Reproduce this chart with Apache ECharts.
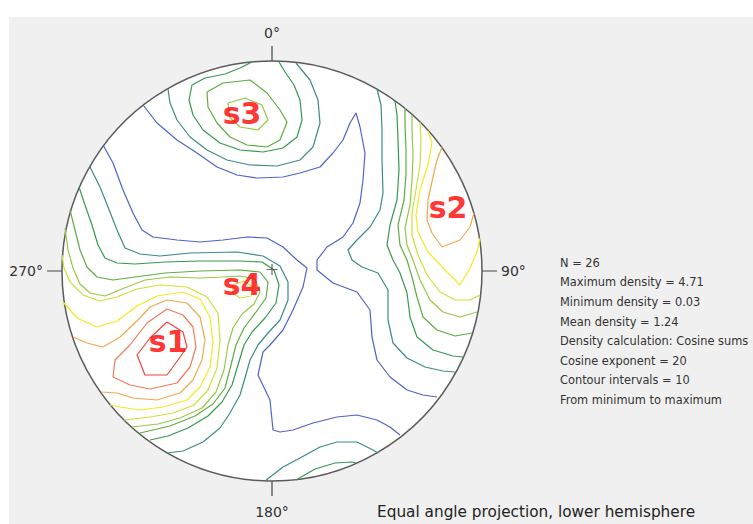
<!DOCTYPE html>
<html>
<head>
<meta charset="utf-8">
<script src="https://cdn.jsdelivr.net/npm/echarts/dist/echarts.min.js"></script>
<style>
html,body{margin:0;padding:0;background:#ffffff;}
#wrap{position:relative;width:753px;height:524px;overflow:hidden;}
#panel{position:absolute;left:9px;top:17px;right:0;bottom:0;background:#f0f0f0;}
#chart{position:absolute;left:0;top:0;width:753px;height:524px;}
</style>
</head>
<body>
<div id="wrap"><div id="panel"></div><div id="chart"></div></div>
<script>
// ---------- text content ----------
const directionLabels = ['0°', '90°', '180°', '270°'];
const statsLines = [
  'N = 26',
  'Maximum density = 4.71',
  'Minimum density = 0.03',
  'Mean density = 1.24',
  'Density calculation: Cosine sums',
  'Cosine exponent = 20',
  'Contour intervals = 10',
  'From minimum to maximum'
];
const captionText = 'Equal angle projection, lower hemisphere';

// ---------- annotations (projection units, primitive radius = 210, x east, y north) ----------
const clusterNames = ['s1', 's2', 's3', 's4'];
const clusterX = [-104, 176, -30, -30];
const clusterY = [-70, 64, 158, -13];
const centerMark = [[0, 1.5]];

// ---------- contour polylines (projection units) ----------
// level 1 (blue)
const l1_a = [[-129,166],[-115,148],[-95,131],[-75,118],[-55,104],[-35,96],[-15,93],[11,94],[28,98],[48,104],[61,118],[71,131],[78,148],[84,158],[88,144],[93,118],[91,91],[88,68],[81,48],[71,34],[55,24],[45,11],[45,1],[61,-12],[85,-21],[98,-39],[100,-66],[105,-89],[118,-106],[135,-119],[151,-124],[165,-126]];
const l1_b = [[-169,126],[-159,108],[-149,81],[-139,58],[-130,41],[-119,34],[-95,31],[-72,29],[-49,31],[-25,34],[-5,33],[11,24],[25,11],[35,3],[31,-16],[21,-39],[11,-59],[-2,-74],[-9,-81],[-14,-104],[-2,-129],[1,-159],[8,-161],[21,-159],[41,-152],[65,-146],[85,-144],[105,-149],[118,-156],[128,-164]];
// level 2 (teal)
const l2_top = [[-104,182],[-102,168],[-95,151],[-82,134],[-65,121],[-45,111],[-22,106],[5,105],[28,111],[41,124],[48,148],[46,171],[38,191],[24,208]];
const l2_right = [[105,182],[109,166],[110,141],[110,111],[111,78],[108,61],[98,44],[85,31],[76,21],[80,11],[90,4],[106,-2],[116,-19],[116,-49],[121,-72],[135,-87],[153,-96],[171,-100],[183,-101]];
const l2_left = [[-182,104],[-172,84],[-164,64],[-155,41],[-147,23],[-132,17],[-112,15],[-82,18],[-35,19],[-9,15],[8,5],[16,-11],[16,-29],[8,-49],[-4,-62],[-14,-74],[-22,-89],[-27,-107],[-32,-124],[-42,-142],[-52,-157],[-69,-171],[-89,-180],[-105,-182]];
const l2_bottom = [[-7,-210],[11,-196],[28,-187],[48,-176],[65,-171],[85,-171],[101,-179],[106,-182]];
// level 3 (dark green)
const l3_top = [[-20,209],[-32,203],[-47,197],[-67,193],[-80,186],[-83,171],[-79,156],[-69,141],[-52,128],[-32,121],[-9,119],[11,123],[25,134],[30,151],[28,171],[22,186],[13,199],[7,209]];
const l3_right = [[123,170],[125,156],[126,131],[127,101],[125,71],[118,46],[115,26],[121,11],[128,-2],[135,-22],[138,-46],[145,-66],[161,-79],[181,-85],[191,-86]];
const l3_left = [[-193,84],[-187,66],[-180,46],[-174,26],[-167,13],[-155,8],[-137,7],[-107,9],[-72,10],[-32,10],[-10,9],[2,1],[7,-14],[4,-32],[-7,-47],[-20,-61],[-28,-74],[-34,-94],[-40,-114],[-50,-131],[-64,-145],[-84,-157],[-104,-165],[-122,-169]];
const l3_bottom = [[24,-209],[43,-198],[63,-192],[80,-191],[84,-192]];
// level 4 (green)
const l4_top = [[-65,179],[-49,188],[-22,191],[-5,178],[8,161],[15,149],[8,131],[-5,124],[-25,126],[-42,134],[-55,148],[-64,164],[-65,179]];
const l4_right = [[133,163],[133,146],[134,121],[134,96],[132,71],[126,46],[128,26],[135,11],[140,-6],[145,-26],[151,-46],[165,-59],[183,-65],[200,-62]];
const l4_left = [[-202,61],[-197,41],[-192,21],[-185,4],[-175,-6],[-159,-9],[-137,-6],[-107,-2],[-72,0],[-32,1],[-12,-1],[-4,-11],[-6,-27],[-16,-41],[-28,-57],[-36,-74],[-41,-94],[-47,-117],[-59,-133],[-77,-145],[-102,-155],[-132,-162]];
// level 5 (light green)
const l5_top = [[-44,168],[-27,173],[-10,166],[-4,151],[-14,141],[-32,144],[-42,153],[-44,168]];
const l5_right = [[140,156],[140,141],[141,116],[140,91],[138,66],[133,43],[135,26],[141,11],[148,-9],[158,-29],[171,-41],[188,-46],[205,-41]];
const l5_left = [[-207,43],[-204,21],[-199,3],[-192,-13],[-182,-22],[-167,-25],[-150,-18],[-127,-9],[-102,-6],[-72,-7],[-50,-6],[-32,-5],[-17,-8],[-12,-21],[-18,-33],[-30,-43],[-39,-57],[-44,-74],[-48,-99],[-56,-121],[-70,-137],[-92,-147],[-114,-153],[-140,-156]];
// level 6 (yellow-green)
const l6_right = [[148,149],[149,131],[148,106],[144,81],[140,58],[140,36],[146,16],[155,-4],[168,-21],[183,-29],[198,-29],[208,-24]];
const l6_left = [[-210,16],[-208,3],[-202,-11],[-189,-24],[-172,-30],[-155,-26],[-135,-18],[-112,-14],[-85,-16],[-65,-26],[-54,-42],[-52,-69],[-55,-97],[-64,-119],[-78,-134],[-99,-142],[-122,-146],[-148,-149]];
const l6_s4 = [[-39,-14],[-28,-10],[-19,-16],[-21,-25],[-32,-27],[-39,-22],[-39,-14]];
// level 7 (yellow)
const l7_right = [[156,140],[160,128],[156,106],[148,81],[144,56],[146,39],[156,19],[173,1],[188,-14],[198,3],[205,19],[208,33]];
const l7_left = [[-209,-31],[-195,-47],[-175,-56],[-155,-50],[-135,-35],[-115,-25],[-89,-21],[-72,-28],[-62,-46],[-59,-72],[-62,-96],[-72,-116],[-85,-129],[-109,-136],[-132,-139],[-152,-136],[-162,-134]];
// level 8 (orange)
const l8_right = [[170,124],[165,111],[161,94],[156,71],[155,51],[160,38],[170,24],[188,31],[198,44],[202,58]];
const l8_left = [[-199,-66],[-185,-72],[-169,-76],[-152,-66],[-132,-47],[-122,-36],[-105,-29],[-85,-32],[-72,-46],[-67,-69],[-70,-89],[-79,-109],[-92,-122],[-115,-129],[-139,-127],[-155,-122],[-171,-121]];
// level 9 (orange-red)
const l9_s1 = [[-105,-38],[-89,-44],[-79,-56],[-76,-76],[-82,-96],[-95,-112],[-122,-118],[-142,-114],[-159,-106],[-157,-89],[-142,-74],[-125,-52],[-105,-38]];
// level 10 (red)
const l10_s1 = [[-105,-51],[-89,-61],[-85,-76],[-94,-89],[-105,-104],[-127,-104],[-135,-84],[-122,-67],[-105,-51]];

const contourSets = [
  [l1_a, l1_b],
  [l2_top, l2_right, l2_left, l2_bottom],
  [l3_top, l3_right, l3_left, l3_bottom],
  [l4_top, l4_right, l4_left],
  [l5_top, l5_right, l5_left],
  [l6_right, l6_left, l6_s4],
  [l7_right, l7_left],
  [l8_right, l8_left],
  [l9_s1],
  [l10_s1]
];

// ---------- styles ----------
const levelColors = ['#5062cc', '#3d8a88', '#379850', '#5fac42', '#96c848', '#cde03a', '#f2ec1e', '#f2a84c', '#f27a5a', '#f04646'];
const CX = 272, CY = 271, R = 210;
const FONT = "'DejaVu Sans', 'Liberation Sans', sans-serif";

const chart = echarts.init(document.getElementById('chart'), null, { renderer: 'svg' });

const series = [];
contourSets.forEach((lines, li) => {
  lines.forEach(pts => {
    series.push({
      type: 'line',
      coordinateSystem: 'cartesian2d',
      data: pts,
      showSymbol: false,
      symbol: 'none',
      smooth: false,
      clip: false,
      silent: true,
      z: 2,
      lineStyle: { color: levelColors[li], width: 1.2 }
    });
  });
});

series.push({
  type: 'scatter',
  data: centerMark,
  symbol: 'path://M4.45,0H5.55V4.45H10V5.55H5.55V10H4.45V5.55H0V4.45H4.45Z',
  symbolSize: 11,
  itemStyle: { color: '#444' },
  silent: true,
  z: 4
});

series.push({
  type: 'scatter',
  data: clusterNames.map((n, i) => ({ name: n, value: [clusterX[i], clusterY[i]] })),
  symbolSize: 1,
  itemStyle: { color: 'transparent' },
  silent: true,
  z: 5,
  label: {
    show: true,
    position: 'inside',
    formatter: '{b}',
    color: '#ff0000',
    fontSize: 30,
    fontWeight: 'bold',
    fontFamily: FONT
  }
});

const option = {
  animation: false,
  backgroundColor: 'transparent',
  grid: { left: CX - R, top: CY - R, width: 2 * R, height: 2 * R, show: false },
  xAxis: { type: 'value', min: -R, max: R, show: false },
  yAxis: { type: 'value', min: -R, max: R, show: false },
  polar: { center: [CX, CY], radius: R },
  angleAxis: {
    type: 'value', min: 0, max: 360, interval: 90, startAngle: 90, clockwise: true,
    axisLine: { show: true, lineStyle: { color: '#5a5a5a', width: 1.5 } },
    axisTick: { show: true, length: 15, lineStyle: { color: '#444', width: 1.2 } },
    axisLabel: {
      show: true, margin: 19, color: '#333', fontSize: 14, fontFamily: FONT,
      formatter: v => {
        const i = Math.round(v / 90);
        if (i === 0) return '{t|' + directionLabels[0] + '}';
        if (i === 2) return '{b|' + directionLabels[2] + '}';
        return directionLabels[i] || '';
      },
      rich: {
        t: { padding: [0, 0, 2, 0], color: '#333', fontSize: 14, fontFamily: FONT },
        b: { padding: [5, 0, 0, 0], color: '#333', fontSize: 14, fontFamily: FONT }
      }
    },
    splitLine: { show: false },
    splitArea: { show: true, areaStyle: { color: ['#ffffff'] } }
  },
  radiusAxis: { type: 'value', min: 0, max: 1, show: false },
  graphic: [
    {
      type: 'text', x: 560, y: 253, silent: true,
      style: { text: statsLines.join('\n'), fill: '#333', font: '11.4px ' + FONT, lineHeight: 19.6, verticalAlign: 'top', align: 'left' }
    },
    {
      type: 'text', x: 377, y: 512, silent: true,
      style: { text: captionText, fill: '#222', font: '15.3px ' + FONT, verticalAlign: 'middle', align: 'left' }
    }
  ],
  series: series
};
chart.setOption(option);
</script>
</body>
</html>
